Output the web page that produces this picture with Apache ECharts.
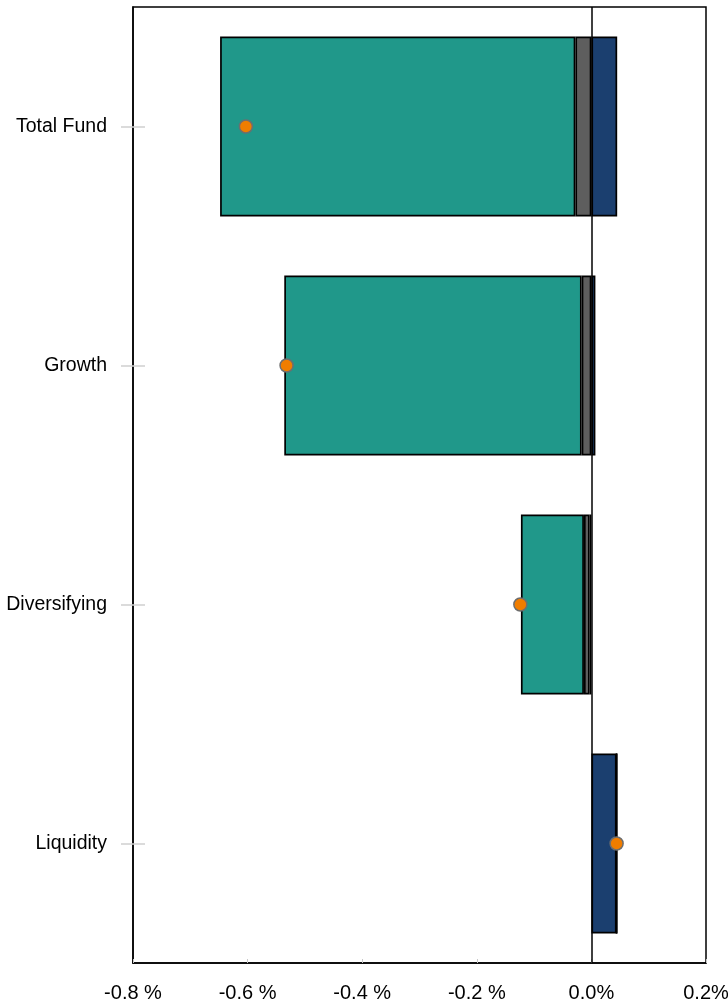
<!DOCTYPE html>
<html>
<head>
<meta charset="utf-8">
<script src="https://cdn.jsdelivr.net/npm/echarts@6/dist/echarts.min.js"></script>
<style>
html,body{margin:0;padding:0;background:#fff;}
#chart{width:728px;height:1006px;}
</style>
</head>
<body>
<div id="chart"></div>
<script>
// Data (percent)
const categories = ['Total Fund', 'Growth', 'Diversifying', 'Liquidity'];
const navyValues = [0.045, 0.007, -0.003, 0.044];
const grayValues = [-0.028, -0.017, -0.010, 0];
const tealValues = [-0.620, -0.519, -0.110, 0];
const totalValues = [-0.603, -0.532, -0.124, 0.044];
const xTickLabels = ['-0.8 %', '-0.6 %', '-0.4 %', '-0.2 %', '0.0%', '0.2%'];
const xMin = -0.8, xMax = 0.2, xInterval = 0.2;

const font = '"Liberation Sans", Arial, sans-serif';
const chart = echarts.init(document.getElementById('chart'));
const barStyle = (c) => ({ color: c, borderColor: '#000', borderWidth: 1.7 });

chart.setOption({
  animation: false,
  grid: { left: 133, right: 22, top: 7, bottom: 43, containLabel: false, outerBoundsMode: 'none',
          show: true, borderColor: '#000', borderWidth: 1.5, backgroundColor: 'transparent' },
  xAxis: {
    type: 'value', min: xMin, max: xMax, interval: xInterval,
    axisLine: { show: true, onZero: false, lineStyle: { color: '#000', width: 1.5 } },
    axisTick: { show: true, inside: true, length: 4, lineStyle: { color: '#c8c8c8' } },
    splitLine: { show: false },
    axisLabel: {
      color: '#000', fontFamily: font, fontSize: 20, margin: 20,
      formatter: (v) => xTickLabels[Math.round((v - xMin) / xInterval)]
    }
  },
  yAxis: [{
    type: 'category', data: categories, inverse: true,
    axisLine: { show: true, onZero: false, lineStyle: { color: '#000', width: 1.5 } },
    axisTick: { show: true, alignWithLabel: true, length: 12, lineStyle: { color: '#d0d0d0', width: 1.5 } },
    axisLabel: { color: '#000', fontFamily: font, fontSize: 19.5, margin: 26 }
  }, {
    type: 'category', data: categories, inverse: true, position: 'left', offset: 0,
    axisLine: { show: false, onZero: false },
    axisTick: { show: true, inside: true, alignWithLabel: true, length: 12, lineStyle: { color: '#d0d0d0', width: 1.5 } },
    axisLabel: { show: false }
  }],
  series: [
    { name: 'navy', type: 'bar', stack: 'a', barWidth: 180, data: navyValues, itemStyle: barStyle('#1b3f6f'),
      markLine: { silent: true, symbol: 'none', label: { show: false }, lineStyle: { color: '#000', width: 1.5, type: 'solid' }, data: [{ xAxis: 0 }], z: 10 } },
    { name: 'gray', type: 'bar', stack: 'a', barWidth: 180, data: grayValues, itemStyle: barStyle('#5e5e5e') },
    { name: 'teal', type: 'bar', stack: 'a', barWidth: 180, data: tealValues, itemStyle: barStyle('#20988a') },
    { name: 'total', type: 'scatter', symbol: 'circle', symbolSize: 13, z: 20,
      data: totalValues.map((v, i) => [v, categories[i]]),
      itemStyle: { color: '#f07d00', borderColor: '#6e6e6e', borderWidth: 1.5, opacity: 1 } }
  ]
});
</script>
</body>
</html>
